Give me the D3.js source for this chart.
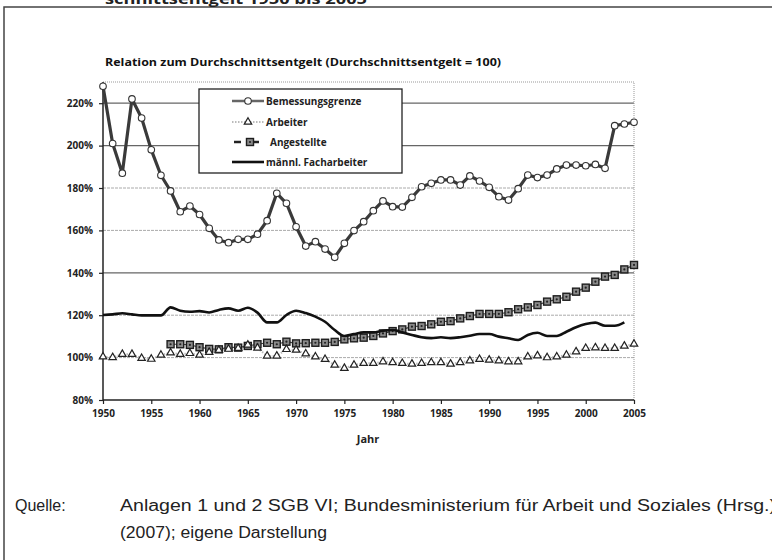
<!DOCTYPE html>
<html>
<head>
<meta charset="utf-8">
<script src="https://cdn.jsdelivr.net/npm/d3@7"></script>
<style>
body { margin: 0; background: #fff; }
svg { display: block; }
</style>
</head>
<body>
<svg id="chart-svg" width="772" height="560"></svg>
<script>

let years = [1950, 1951, 1952, 1953, 1954, 1955, 1956, 1957, 1958, 1959,
    1960, 1961, 1962, 1963, 1964, 1965, 1966, 1967, 1968, 1969,
    1970, 1971, 1972, 1973, 1974, 1975, 1976, 1977, 1978, 1979,
    1980, 1981, 1982, 1983, 1984, 1985, 1986, 1987, 1988, 1989,
    1990, 1991, 1992, 1993, 1994, 1995, 1996, 1997, 1998, 1999,
    2000, 2001, 2002, 2003, 2004, 2005];

let bemessungsgrenze = [228, 201, 187, 222, 213, 198, 186, 178.6, 168.8, 171.5,
    167.5, 161, 155.5, 154.2, 155.8, 155.8, 158.2, 164.6, 177.5, 172.8,
    161.7, 152.6, 154.7, 151.2, 147.3, 153.9, 159.9, 164.1, 169.3, 173.9,
    171.2, 171, 175.6, 180.6, 182.2, 183.8, 183.8, 181.4, 185.7, 183.3,
    180.3, 175.9, 174.3, 179.7, 186.1, 184.9, 186.1, 189, 190.8, 190.8,
    190.5, 191.1, 189.3, 209.4, 210.2, 211];

let arbeiter = [100.4, 100.1, 101.6, 101.6, 99.7, 99.3, 101.2, 102.3, 101.6, 102,
    101.2, 102.5, 103.5, 104, 104.4, 106, 104.5, 100.8, 100.8, 103.9,
    103.6, 101.8, 100.4, 99.2, 96.5, 95, 96.5, 97.3, 97.3, 98.1,
    97.7, 97.3, 97, 97.3, 97.7, 97.7, 97, 97.7, 98.5, 99.2,
    98.9, 98.5, 98.1, 98.1, 100.4, 100.9, 100, 100.4, 101.2, 102.8,
    104.4, 104.7, 104.4, 104.4, 105.5, 106.4];

let angestellte = [null, null, null, null, null, null, null, 106.3, 106.3, 106,
    104.9, 104.1, 103.9, 104.9, 104.7, 105.5, 106.3, 107, 106.3, 107.5,
    106.7, 106.8, 107, 107, 107.4, 108.6, 109.1, 109.4, 110.2, 111.4,
    112.5, 113.3, 114.6, 114.9, 115.7, 116.9, 117.2, 118.5, 119.6, 120.6,
    120.6, 120.6, 121.4, 122.8, 123.7, 124.8, 126.4, 127.5, 128.7, 131.1,
    133, 135.8, 138.2, 139, 141.6, 143.7];

let facharbeiter = [120.1, 120.4, 120.9, 120.4, 119.9, 119.9, 119.9, 123.7, 122.1, 121.6,
    121.9, 121.3, 122.5, 123.2, 122.1, 123.5, 121.2, 116.6, 116.6, 120.1,
    122.1, 121, 119.3, 116.9, 113, 110.2, 111.1, 111.9, 111.9, 112.7,
    113, 111.9, 110.7, 109.6, 109.2, 109.6, 109.2, 109.6, 110.3, 111.1,
    111.1, 109.9, 109.1, 108.3, 110.7, 111.7, 110.2, 110.2, 112.2, 114.3,
    115.8, 116.5, 115, 115, 116.6, null];

let xTickValues = [1950, 1955, 1960, 1965, 1970, 1975, 1980, 1985, 1990, 1995, 2000, 2005];
let yTickValues = [80, 100, 120, 140, 160, 180, 200, 220];
let legendLabels = ["Bemessungsgrenze", "Arbeiter", "Angestellte", "männl. Facharbeiter"];

let svg = d3.select('#chart-svg');
let plot = {l: 103, r: 634, t: 82, b: 400};
let boldFont = "'Open Sans', 'DejaVu Sans', sans-serif";

let x = d3.scaleLinear().domain([1950, 2005]).range([plot.l, plot.r]);
let y = d3.scaleLinear().domain([80, 230]).range([plot.b, plot.t]);

// page frame and cut-off heading
svg.append("path")
    .attr("d", "M4,560 V7 H772")
    .attr("fill", "none")
    .attr("stroke", "#444")
    .attr("stroke-width", 1.5);

svg.append("text")
    .attr("x", 105).attr("y", 4)
    .attr("font-family", boldFont)
    .attr("font-weight", "bold")
    .attr("font-size", "15px")
    .attr("fill", "#222")
    .attr("textLength", 262)
    .attr("lengthAdjust", "spacingAndGlyphs")
    .text("schnittsentgelt 1950 bis 2005");

svg.append("text")
    .attr("x", 105).attr("y", 66)
    .attr("font-family", boldFont)
    .attr("font-weight", "bold")
    .attr("font-size", "11px")
    .attr("fill", "#111")
    .attr("textLength", 396)
    .attr("lengthAdjust", "spacingAndGlyphs")
    .text("Relation zum Durchschnittsentgelt (Durchschnittsentgelt = 100)");

// grid
let darkGrid = [220, 200, 140];
svg.append("g").selectAll("line")
    .data(yTickValues.filter(d => d > 80))
    .enter().append("line")
    .attr("x1", plot.l).attr("x2", plot.r)
    .attr("y1", d => y(d)).attr("y2", d => y(d))
    .attr("stroke", d => darkGrid.includes(d) ? "#666" : "#aaa")
    .attr("stroke-width", d => darkGrid.includes(d) ? 1.2 : 1)
    .attr("stroke-dasharray", d => darkGrid.includes(d) ? null : "3,1");

svg.append("path")
    .attr("d", "M" + plot.l + "," + plot.t + " H" + plot.r + " V" + plot.b)
    .attr("fill", "none")
    .attr("stroke", "#999")
    .attr("stroke-dasharray", "1,1");

// axes
let yAxis = svg.append("g")
    .attr("transform", "translate(" + plot.l + ",0)")
    .call(d3.axisLeft(y).tickValues(yTickValues).tickSize(4).tickPadding(6).tickFormat(d => d + "%"));

let xAxis = svg.append("g")
    .attr("transform", "translate(0," + plot.b + ")")
    .call(d3.axisBottom(x).tickValues(xTickValues).tickSize(4).tickPadding(6).tickFormat(d3.format("d")));

[yAxis, xAxis].forEach(function(ax) {
    ax.select(".domain").attr("stroke", "#222").attr("stroke-width", 1.5);
    ax.selectAll(".tick line").attr("stroke", "#222").attr("stroke-width", 1.2);
    ax.selectAll("text")
        .attr("font-family", boldFont)
        .attr("font-weight", "bold")
        .attr("font-size", "10px")
        .attr("fill", "#222");
});
yAxis.select(".domain").attr("d", "M0," + plot.b + " V" + plot.t);
xAxis.select(".domain").attr("d", "M" + plot.l + ",0 H" + plot.r);
yAxis.selectAll(".tick text").attr("x", -10);

svg.append("text")
    .attr("x", 368).attr("y", 443)
    .attr("text-anchor", "middle")
    .attr("font-family", boldFont)
    .attr("font-weight", "bold")
    .attr("font-size", "11px")
    .attr("fill", "#222")
    .text("Jahr");

// series
function seriesData(values) {
    return years.map((yr, i) => ({year: yr, value: values[i]}));
}

let lineGen = d3.line()
    .defined(d => d.value != null)
    .x(d => x(d.year))
    .y(d => y(d.value));

let smoothLine = d3.line()
    .defined(d => d.value != null)
    .curve(d3.curveMonotoneX)
    .x(d => x(d.year))
    .y(d => y(d.value));

let arbData = seriesData(arbeiter);
let angData = seriesData(angestellte).filter(d => d.value != null);
let bemData = seriesData(bemessungsgrenze);
let facData = seriesData(facharbeiter).filter(d => d.value != null);

let triangle = d3.symbol().type(d3.symbolTriangle).size(24);

function drawTriangle(sel) {
    sel.attr("d", triangle)
        .attr("fill", "#fff")
        .attr("stroke", "#222")
        .attr("stroke-width", 1.2);
}

function drawSquare(g) {
    g.append("rect")
        .attr("x", -3.5).attr("y", -3.5)
        .attr("width", 7).attr("height", 7)
        .attr("fill", "#8a8a8a")
        .attr("stroke", "#1e1e1e")
        .attr("stroke-width", 1.4);
    g.append("circle")
        .attr("r", 1.1)
        .attr("fill", "#222");
}

svg.append("path")
    .datum(arbData)
    .attr("d", lineGen)
    .attr("fill", "none")
    .attr("stroke", "#bbb")
    .attr("stroke-width", 2)
    .attr("stroke-dasharray", "1.5,1.5");

svg.append("path")
    .datum(angData)
    .attr("d", lineGen)
    .attr("fill", "none")
    .attr("stroke", "#444")
    .attr("stroke-width", 1.2);

svg.append("g").selectAll("g")
    .data(angData)
    .enter().append("g")
    .attr("transform", d => "translate(" + x(d.year) + "," + y(d.value) + ")")
    .each(function() { drawSquare(d3.select(this)); });

svg.append("g").selectAll("path")
    .data(arbData)
    .enter().append("path")
    .attr("transform", d => "translate(" + x(d.year) + "," + y(d.value) + ")")
    .call(drawTriangle);

svg.append("path")
    .datum(facData)
    .attr("d", smoothLine)
    .attr("fill", "none")
    .attr("stroke", "#111")
    .attr("stroke-width", 2.6);

svg.append("path")
    .datum(bemData)
    .attr("d", lineGen)
    .attr("fill", "none")
    .attr("stroke", "#3a3a3a")
    .attr("stroke-width", 3.2)
    .attr("stroke-linejoin", "round");

svg.append("g").selectAll("circle")
    .data(bemData)
    .enter().append("circle")
    .attr("cx", d => x(d.year))
    .attr("cy", d => y(d.value))
    .attr("r", 3.3)
    .attr("fill", "#fff")
    .attr("stroke", "#333")
    .attr("stroke-width", 1.1);

// legend
let legend = svg.append("g");
legend.append("rect")
    .attr("x", 199).attr("y", 89)
    .attr("width", 203).attr("height", 84)
    .attr("fill", "#fff")
    .attr("stroke", "#222")
    .attr("stroke-width", 1.3);

let legendY = [101, 122, 142, 162];
let legendTextX = [266, 266, 270, 266];

legend.append("line")
    .attr("x1", 232).attr("x2", 264).attr("y1", legendY[0]).attr("y2", legendY[0])
    .attr("stroke", "#666").attr("stroke-width", 2.5);
legend.append("circle")
    .attr("cx", 248).attr("cy", legendY[0]).attr("r", 3.3)
    .attr("fill", "#fff").attr("stroke", "#333").attr("stroke-width", 1.1);

legend.append("line")
    .attr("x1", 232).attr("x2", 264).attr("y1", legendY[1]).attr("y2", legendY[1])
    .attr("stroke", "#bbb").attr("stroke-width", 2).attr("stroke-dasharray", "1.5,1.5");
legend.append("path")
    .attr("transform", "translate(248," + legendY[1] + ")")
    .call(drawTriangle);

legend.append("line")
    .attr("x1", 234).attr("x2", 241).attr("y1", legendY[2]).attr("y2", legendY[2])
    .attr("stroke", "#222").attr("stroke-width", 2.5);
legend.append("line")
    .attr("x1", 253).attr("x2", 259).attr("y1", legendY[2]).attr("y2", legendY[2])
    .attr("stroke", "#222").attr("stroke-width", 2.5);
legend.append("g")
    .attr("transform", "translate(250," + legendY[2] + ")")
    .call(drawSquare);

legend.append("line")
    .attr("x1", 232).attr("x2", 264).attr("y1", legendY[3]).attr("y2", legendY[3])
    .attr("stroke", "#111").attr("stroke-width", 2.6);

legend.selectAll("text")
    .data(legendLabels)
    .enter().append("text")
    .attr("x", (d, i) => legendTextX[i])
    .attr("y", (d, i) => legendY[i])
    .attr("dy", "0.35em")
    .attr("font-family", boldFont)
    .attr("font-weight", "bold")
    .attr("font-size", "10px")
    .attr("fill", "#222")
    .text(d => d);

// source note
let noteFont = "'Liberation Sans', Arial, sans-serif";
svg.append("text")
    .attr("x", 15).attr("y", 511)
    .attr("font-family", noteFont)
    .attr("font-size", "16px")
    .attr("fill", "#222")
    .text("Quelle:");

svg.append("text")
    .attr("x", 120).attr("y", 511)
    .attr("font-family", noteFont)
    .attr("font-size", "16px")
    .attr("fill", "#222")
    .attr("textLength", 656)
    .attr("lengthAdjust", "spacingAndGlyphs")
    .text("Anlagen 1 und 2 SGB VI; Bundesministerium für Arbeit und Soziales (Hrsg.)");

svg.append("text")
    .attr("x", 120).attr("y", 538)
    .attr("font-family", noteFont)
    .attr("font-size", "16px")
    .attr("fill", "#222")
    .attr("textLength", 207)
    .attr("lengthAdjust", "spacingAndGlyphs")
    .text("(2007); eigene Darstellung");

</script>
</body>
</html>
